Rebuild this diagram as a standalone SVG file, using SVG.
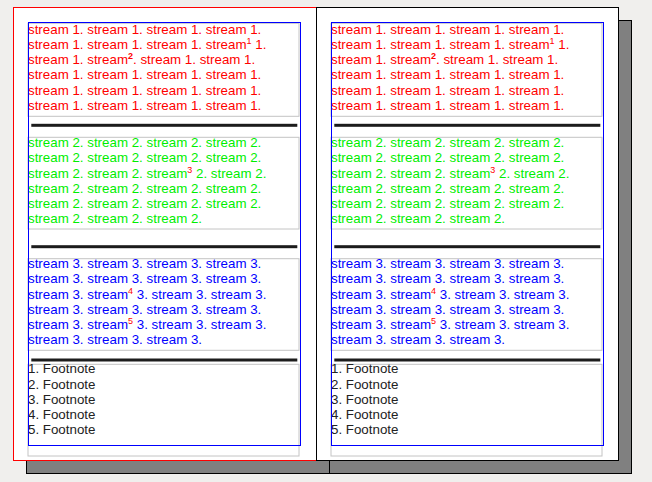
<svg xmlns="http://www.w3.org/2000/svg" width="652" height="482" viewBox="0 0 652 482">
<defs>
<style>
text{font-family:"Liberation Sans",Arial,sans-serif;font-size:13.33px}
.s1{fill:#ff0000}.s2{fill:#00ee00}.s3{fill:#0000ff}.fn{fill:#222}
.sup{font-size:9px;fill:#ff0000}
.box{fill:none;stroke:#c4c4c4;stroke-width:1}
.rule{fill:#1c1c1c}
.blue{fill:none;stroke:#0000ff;stroke-width:1}
.shadow{fill:#808080;stroke:#000;stroke-width:1}
</style>
<g id="content">
<rect class="box" x="0" y="0" width="271" height="93"/>
<text class="s1" x="0" y="10.3">stream 1. stream 1. stream 1. stream 1.</text>
<text class="s1" x="0" y="25.6">stream 1. stream 1. stream 1. stream<tspan class="sup" dy="-5">1</tspan><tspan dy="5"> 1.</tspan></text>
<text class="s1" x="0" y="40.9">stream 1. stream<tspan class="sup" dy="-5" font-weight="bold">2</tspan><tspan dy="5">. stream 1. stream 1.</tspan></text>
<text class="s1" x="0" y="56.2">stream 1. stream 1. stream 1. stream 1.</text>
<text class="s1" x="0" y="71.5">stream 1. stream 1. stream 1. stream 1.</text>
<text class="s1" x="0" y="86.8">stream 1. stream 1. stream 1. stream 1.</text>
<rect class="rule" x="3.3" y="100.5" width="266" height="3"/>
<rect class="box" x="0" y="114" width="271" height="91.7"/>
<text class="s2" x="0" y="124">stream 2. stream 2. stream 2. stream 2.</text>
<text class="s2" x="0" y="139.2">stream 2. stream 2. stream 2. stream 2.</text>
<text class="s2" x="0" y="154.4">stream 2. stream 2. stream<tspan class="sup" dy="-5">3</tspan><tspan dy="5"> 2. stream 2.</tspan></text>
<text class="s2" x="0" y="169.6">stream 2. stream 2. stream 2. stream 2.</text>
<text class="s2" x="0" y="184.8">stream 2. stream 2. stream 2. stream 2.</text>
<text class="s2" x="0" y="200">stream 2. stream 2. stream 2.</text>
<rect class="rule" x="3.3" y="221.9" width="266" height="3"/>
<rect class="box" x="0" y="235.4" width="271" height="91.6"/>
<text class="s3" x="0" y="244.7">stream 3. stream 3. stream 3. stream 3.</text>
<text class="s3" x="0" y="260">stream 3. stream 3. stream 3. stream 3.</text>
<text class="s3" x="0" y="275.3">stream 3. stream<tspan class="sup" dy="-5">4</tspan><tspan dy="5"> 3. stream 3. stream 3.</tspan></text>
<text class="s3" x="0" y="290.6">stream 3. stream 3. stream 3. stream 3.</text>
<text class="s3" x="0" y="305.9">stream 3. stream<tspan class="sup" dy="-5">5</tspan><tspan dy="5"> 3. stream 3. stream 3.</tspan></text>
<text class="s3" x="0" y="321.2">stream 3. stream 3. stream 3.</text>
<rect class="rule" x="3.3" y="335.2" width="266" height="3"/>
<rect class="box" x="0" y="341" width="271" height="91.7"/>
<text class="fn" x="0" y="350">1. Footnote</text>
<text class="fn" x="0" y="365.3">2. Footnote</text>
<text class="fn" x="0" y="380.6">3. Footnote</text>
<text class="fn" x="0" y="395.9">4. Footnote</text>
<text class="fn" x="0" y="411.2">5. Footnote</text>
</g>
</defs>
<rect x="0" y="0" width="652" height="482" fill="#f0efed"/>
<g id="shadows">
<rect class="shadow" x="26.5" y="20.5" width="303" height="453"/>
<rect class="shadow" x="329.5" y="20.5" width="302" height="453"/>
</g>
<g id="page1">
<rect x="13.5" y="7.5" width="303" height="453" fill="#fff" stroke="#ff0000"/>
<use href="#content" x="28" y="23.3"/>
<rect class="blue" x="28.5" y="22.5" width="272" height="423"/>
</g>
<g id="page2">
<rect x="316.5" y="7.5" width="302" height="453" fill="#fff" stroke="#000"/>
<use href="#content" x="331" y="23.3"/>
<rect class="blue" x="331.5" y="22.5" width="272" height="423"/>
</g>
</svg>
